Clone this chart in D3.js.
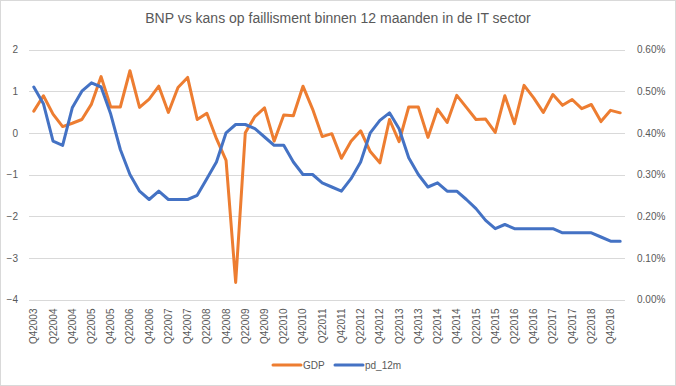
<!DOCTYPE html>
<html>
<head>
<meta charset="utf-8">
<script src="https://cdn.jsdelivr.net/npm/d3@7"></script>
<style>
  body { margin: 0; background: #fff; }
  text { font-family: "Liberation Sans", Arial, sans-serif; fill: #595959; }
</style>
</head>
<body>
<svg id="chart" width="676" height="386"></svg>
<script>
// quarters, Q4 2003 .. Q1 2019
var quarters = [
  'Q42003', 'Q12004', 'Q22004', 'Q32004', 'Q42004', 'Q12005', 'Q22005', 'Q32005', 'Q42005',
  'Q12006', 'Q22006', 'Q32006', 'Q42006', 'Q12007', 'Q22007', 'Q32007', 'Q42007',
  'Q12008', 'Q22008', 'Q32008', 'Q42008', 'Q12009', 'Q22009', 'Q32009', 'Q42009',
  'Q12010', 'Q22010', 'Q32010', 'Q42010', 'Q12011', 'Q22011', 'Q32011', 'Q42011',
  'Q12012', 'Q22012', 'Q32012', 'Q42012', 'Q12013', 'Q22013', 'Q32013', 'Q42013',
  'Q12014', 'Q22014', 'Q32014', 'Q42014', 'Q12015', 'Q22015', 'Q32015', 'Q42015',
  'Q12016', 'Q22016', 'Q32016', 'Q42016', 'Q12017', 'Q22017', 'Q32017', 'Q42017',
  'Q12018', 'Q22018', 'Q32018', 'Q42018', 'Q12019'
];

// GDP growth (left axis)
var gdp = [
  0.52, 0.89, 0.45, 0.15, 0.23, 0.32, 0.69, 1.35, 0.62, 0.62,
  1.49, 0.61, 0.81, 1.12, 0.49, 1.09, 1.33, 0.32, 0.47, -0.14,
  -0.66, -3.59, 0.00, 0.39, 0.60, -0.20, 0.43, 0.41, 1.12, 0.57,
  -0.09, -0.02, -0.61, -0.20, 0.05, -0.45, -0.72, 0.32, -0.21, 0.62,
  0.62, -0.11, 0.57, 0.25, 0.90, 0.61, 0.32, 0.33, 0.01, 0.89,
  0.22, 1.14, 0.84, 0.49, 0.92, 0.66, 0.80, 0.58, 0.68, 0.27,
  0.54, 0.48
];

// 12 month default probability (right axis)
var pd12m = [
  0.0051, 0.0047, 0.0038, 0.0037, 0.0046, 0.0050, 0.0052, 0.0051, 0.00445, 0.0036,
  0.0030, 0.0026, 0.0024, 0.0026, 0.0024, 0.0024, 0.0024, 0.0025, 0.0029, 0.0033,
  0.0040, 0.0042, 0.0042, 0.0041, 0.0039, 0.0037, 0.0037, 0.0033, 0.0030, 0.0030,
  0.0028, 0.0027, 0.0026, 0.0029, 0.0033, 0.0040, 0.0043, 0.00448, 0.0041, 0.0034,
  0.0030, 0.0027, 0.0028, 0.0026, 0.0026, 0.0024, 0.00218, 0.0019, 0.0017, 0.0018,
  0.0017, 0.0017, 0.0017, 0.0017, 0.0017, 0.0016, 0.0016, 0.0016, 0.0016, 0.0015,
  0.0014, 0.0014
];

var leftTicks = [-4, -3, -2, -1, 0, 1, 2];
var rightTicks = [0, 0.001, 0.002, 0.003, 0.004, 0.005, 0.006];

var svg = d3.select('#chart');
var W = 676, H = 386;
var plot = { left: 29, right: 625, top: 49.5, bottom: 299.5 };

// chart area border
svg.append('rect')
  .attr('x', 0.5).attr('y', 0.5)
  .attr('width', W - 1).attr('height', H - 1)
  .attr('fill', '#fff').attr('stroke', '#d9d9d9');

svg.append('text')
  .attr('x', 338).attr('y', 23)
  .attr('text-anchor', 'middle')
  .style('font-size', '14px')
  .text('BNP vs kans op faillisment binnen 12 maanden in de IT sector');

var x = d3.scaleBand().domain(quarters).range([plot.left, plot.right]);
var yL = d3.scaleLinear().domain([-4, 2]).range([plot.bottom, plot.top]);
var yR = d3.scaleLinear().domain([0, 0.006]).range([plot.bottom, plot.top]);

// gridlines
svg.append('g')
  .selectAll('line')
  .data(leftTicks)
  .join('line')
  .attr('x1', plot.left).attr('x2', plot.right)
  .attr('y1', function(d) { return Math.round(yL(d)) + 0.5; })
  .attr('y2', function(d) { return Math.round(yL(d)) + 0.5; })
  .attr('stroke', '#d9d9d9').attr('stroke-width', 1);

var gL = svg.append('g')
  .attr('transform', 'translate(' + plot.left + ',0)')
  .call(d3.axisLeft(yL).tickValues(leftTicks).tickSize(0).tickPadding(11).tickFormat(d3.format('d')));
gL.select('.domain').remove();

var gR = svg.append('g')
  .attr('transform', 'translate(' + plot.right + ',0)')
  .call(d3.axisRight(yR).tickValues(rightTicks).tickSize(0).tickPadding(12).tickFormat(d3.format('.2%')));
gR.select('.domain').remove();

var gX = svg.append('g')
  .attr('transform', 'translate(0,' + plot.bottom + ')')
  .call(d3.axisBottom(x)
    .tickValues(quarters.filter(function(d, i) { return i % 2 === 0; }))
    .tickSize(0));
gX.select('.domain').remove();
gX.selectAll('text')
  .attr('transform', 'rotate(-90)')
  .attr('x', -9).attr('y', 0).attr('dy', '0.35em')
  .attr('text-anchor', 'end');

svg.selectAll('.tick text')
  .style('font-size', '10px')
  .style('font-family', '"Liberation Sans", Arial, sans-serif')
  .attr('fill', '#595959');

var cx = function(d, i) { return x(quarters[i]) + x.bandwidth() / 2; };

var gdpLine = d3.line().x(cx).y(function(d) { return yL(d); });
var pdLine = d3.line().x(cx).y(function(d) { return yR(d); });

svg.append('path')
  .datum(gdp)
  .attr('d', gdpLine)
  .attr('fill', 'none').attr('stroke', '#ed7d31')
  .attr('stroke-width', 3).attr('stroke-linejoin', 'round').attr('stroke-linecap', 'round');

svg.append('path')
  .datum(pd12m)
  .attr('d', pdLine)
  .attr('fill', 'none').attr('stroke', '#4472c4')
  .attr('stroke-width', 3).attr('stroke-linejoin', 'round').attr('stroke-linecap', 'round');

// legend
var legend = [
  { name: 'GDP', color: '#ed7d31', x: 273 },
  { name: 'pd_12m', color: '#4472c4', x: 335 }
];
var lg = svg.append('g').selectAll('g').data(legend).join('g')
  .attr('transform', function(d) { return 'translate(' + d.x + ',365)'; });
lg.append('line')
  .attr('x1', 0).attr('x2', 28)
  .attr('stroke', function(d) { return d.color; })
  .attr('stroke-width', 3).attr('stroke-linecap', 'round');
lg.append('text')
  .attr('x', 30).attr('dy', '0.35em')
  .style('font-size', '10px')
  .text(function(d) { return d.name; });
</script>
</body>
</html>
